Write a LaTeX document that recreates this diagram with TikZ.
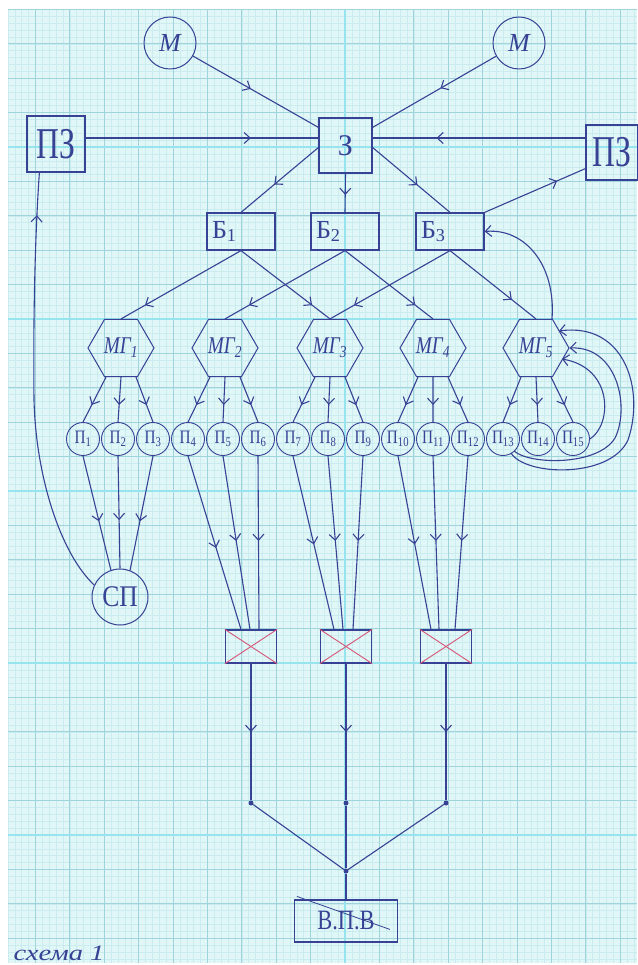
\documentclass[tikz,border=0pt]{standalone}
\usepackage{fontspec}
\usepackage{graphicx}
\setmainfont{Liberation Serif}
\usetikzlibrary{arrows.meta,decorations.markings,shapes.geometric,calc}
\definecolor{paperc}{RGB}{224,246,247}
\definecolor{gfine}{RGB}{202,236,239}
\definecolor{gmed}{RGB}{160,212,220}
\definecolor{gbright}{RGB}{150,228,238}
\definecolor{inkc}{RGB}{55,66,148}
\definecolor{redinkc}{RGB}{214,86,120}
\newcommand\plab[1]{\scalebox{0.8}[1]{П\textsubscript{#1}}}
\newcommand\nrw[2]{\scalebox{#1}[1]{#2}}
\begin{document}
\begin{tikzpicture}[x=1pt,y=-1pt,
  wire/.style={draw=inkc, line width=1.1pt},
  tipd/.style={-{Straight Barb[length=6pt,width=11pt]}},
  marr/.style={postaction={decorate,decoration={markings,mark=at position #1 with {\arrow{Straight Barb[length=6pt,width=11pt]}}}}},
  circ/.style={circle, draw=inkc, line width=1pt, inner sep=0pt, text=inkc},
  rbox/.style={rectangle, draw=inkc, line width=1.2pt, inner sep=0pt, text=inkc},
  hexa/.style={regular polygon, regular polygon sides=6, minimum size=66pt, draw=inkc, line width=1pt, inner sep=0pt, text=inkc, font=\itshape\fontsize{24}{24}\selectfont},
  pc/.style={circle, draw=inkc, minimum size=33pt, inner sep=0pt, line width=0.9pt, text=inkc, font=\fontsize{19}{19}\selectfont},
  xbox/.style={rectangle, draw=inkc, line width=1.2pt, minimum width=51pt, minimum height=33pt, inner sep=0pt},
  bbox/.style={rbox, minimum width=68pt, minimum height=37pt, text width=58pt, align=left, inner xsep=5pt, font=\fontsize{26}{26}\selectfont},
  jdot/.style={circle, fill=inkc, inner sep=0pt, minimum size=5pt}
]
\useasboundingbox (0,0) rectangle (637,965);
\fill[white] (0,0) rectangle (637,965);
\fill[paperc] (8,10) rectangle (637,963);
\begin{scope}
\clip (8,10) rectangle (637,963);
\foreach \i in {-49,...,42} \draw[gfine, line width=0.5pt] ({345+6.88*\i},10) -- ({345+6.88*\i},963);
\foreach \j in {-95,...,43} \draw[gfine, line width=0.5pt] (8,{663+6.88*\j}) -- (637,{663+6.88*\j});
\foreach \i in {-10,...,8} \draw[gmed, line width=0.8pt] ({345+34.4*\i},10) -- ({345+34.4*\i},963);
\foreach \j in {-19,...,8} \draw[gmed, line width=0.8pt] (8,{663+34.4*\j}) -- (637,{663+34.4*\j});
\foreach \j in {-3,...,1} \draw[gbright, line width=1.8pt] (8,{663+172*\j}) -- (637,{663+172*\j});
\draw[gbright, line width=1.8pt] (345,10) -- (345,963);
\end{scope}

% top level
\node[circ, minimum size=52pt, font=\itshape\fontsize{26}{26}\selectfont] (m1) at (170,43) {М};
\node[circ, minimum size=52pt, font=\itshape\fontsize{26}{26}\selectfont] (m2) at (519,43) {М};
\node[rbox, minimum width=58pt, minimum height=56pt, font=\fontsize{44}{44}\selectfont] (pzl) at (56,144) {\nrw{0.72}{ПЗ}};
\node[rbox, minimum width=53pt, minimum height=55pt, font=\fontsize{30}{30}\selectfont] (z) at (345.5,145.5) {З};
\node[rbox, minimum width=52pt, minimum height=55pt, font=\fontsize{44}{44}\selectfont] (pzr) at (612,152.5) {\nrw{0.72}{ПЗ}};
\coordinate (hl) at (0,138);

\node[bbox] (b1) at (241,231.5) {Б\textsubscript{1}};
\node[bbox] (b2) at (345,231.5) {Б\textsubscript{2}};
\node[bbox] (b3) at (450,231.5) {Б\textsubscript{3}};

\node[hexa] (mg1) at (121,348) {\nrw{0.8}{МГ\textsubscript{1}}};
\node[hexa] (mg2) at (225,348) {\nrw{0.8}{МГ\textsubscript{2}}};
\node[hexa] (mg3) at (330,348) {\nrw{0.8}{МГ\textsubscript{3}}};
\node[hexa] (mg4) at (433,348) {\nrw{0.8}{МГ\textsubscript{4}}};
\node[hexa] (mg5) at (536,348) {\nrw{0.8}{МГ\textsubscript{5}}};

\foreach \i in {1,...,15} \node[pc] (p\i) at ({83+35*(\i-1)},439) {\plab{\i}};

\node[circ, minimum size=56pt, font=\fontsize{30}{30}\selectfont] (sp) at (120,597) {\nrw{0.85}{СП}};

\node[xbox] (x1) at (251,646.5) {};
\node[xbox] (x2) at (346,646.5) {};
\node[xbox] (x3) at (446,646.5) {};
\foreach \k in {1,2,3} {
  \draw[redinkc, line width=0.9pt] (x\k.north west) -- (x\k.south east);
  \draw[redinkc, line width=0.9pt] (x\k.south west) -- (x\k.north east);
}

\node[jdot] (d1) at (251,803) {};
\node[jdot] (d2) at (346,803) {};
\node[jdot] (d3) at (446,803) {};
\node[jdot] (j) at (346,871) {};
\node[rbox, minimum width=103pt, minimum height=42pt, font=\fontsize{28}{28}\selectfont] (vpv) at (346,921) {\nrw{0.8}{В.П.В}};
\draw[inkc, line width=0.8pt] ($(vpv.north west)+(3,-3)$) -- ($(vpv.north west)+(96,30)$);

\node[anchor=west, text=inkc, font=\itshape\fontsize{22}{22}\selectfont] (cap) at (10,953) {\nrw{1.3}{схема 1}};

% connectors top
\draw[wire, marr=0.46] (m1) -- ($(z.north west)+(0,10)$);
\draw[wire, marr=0.45] (m2) -- ($(z.north east)+(0,10)$);
\draw[wire, marr=0.71] (pzl.east |- hl) -- (z.west |- hl);
\draw[wire, marr=0.7] (pzr.west |- hl) -- (z.east |- hl);
\draw[wire, marr=0.57] ($(z.west)+(0,2)$) -- (b1.north);
\draw[wire, marr=0.55] (z.south) -- (b2.north);
\draw[wire, marr=0.58] ($(z.east)+(0,2)$) -- (b3.north);
\draw[wire, marr=0.72] (b3.north east) -- ($(pzr.south west)+(0,-12)$);

% Б -> МГ
\draw[wire, marr=0.8] (b1.south) -- (mg1.north);
\draw[wire, marr=0.8] (b1.south) -- (mg3.north);
\draw[wire, marr=0.8] (b2.south) -- (mg2.north);
\draw[wire, marr=0.8] (b2.south) -- (mg4.north);
\draw[wire, marr=0.8] (b3.south) -- (mg3.north);
\draw[wire, marr=0.72] (b3.south) -- (mg5.north);

% МГ -> П
\foreach \g/\a/\b/\c in {1/1/2/3, 2/4/5/6, 3/7/8/9, 4/10/11/12, 5/13/14/15} {
  \draw[wire, marr=0.62] ($(mg\g.south)+(-15,0)$) -- (p\a.north);
  \draw[wire, marr=0.62] (mg\g.south) -- (p\b.north);
  \draw[wire, marr=0.62] ($(mg\g.south)+(15,0)$) -- (p\c.north);
}

% П -> СП
\draw[wire, marr=0.57] (p1.south) -- ($(sp.north)+(-9,2)$);
\draw[wire, marr=0.57] (p2.south) -- (sp.north);
\draw[wire, marr=0.57] (p3.south) -- ($(sp.north)+(10,2)$);

% П -> X boxes
\draw[wire, marr=0.53] (p4.south) -- ($(x1.north)+(-10,0)$);
\draw[wire, marr=0.49] (p5.south) -- ($(x1.north)+(-1,0)$);
\draw[wire, marr=0.49] (p6.south) -- ($(x1.north)+(8,0)$);
\draw[wire, marr=0.51] (p7.south) -- ($(x2.north)+(-12,0)$);
\draw[wire, marr=0.49] (p8.south) -- ($(x2.north)+(-3,0)$);
\draw[wire, marr=0.49] (p9.south) -- ($(x2.north)+(7,0)$);
\draw[wire, marr=0.51] (p10.south) -- ($(x3.north)+(-15,0)$);
\draw[wire, marr=0.49] (p11.south) -- ($(x3.north)+(-7,0)$);
\draw[wire, marr=0.49] (p12.south) -- ($(x3.north)+(9,0)$);

% СП -> left ПЗ
\draw[wire, marr=0.9] (sp.155) .. controls (62,555) and (36,480) .. (34,400) .. controls (33,300) and (36,220) .. ($(pzl.south west)+(13,0)$);

% feedback arcs around МГ5
\draw[wire, tipd] ($(mg5)+(16,-29)$) .. controls (556,265) and (525,228) .. (b3.east);
\draw[wire, tipd] (p15.east) .. controls (612,425) and (614,368) .. ($(mg5)+(26,11)$);
\draw[wire, tipd] ($(p13)+(11,12)$) .. controls (530,465) and (598,466) .. (615,438) .. controls (630,408) and (618,346) .. (mg5.east);
\draw[wire, tipd] ($(p13)+(8,14)$) .. controls (525,476) and (610,479) .. (628,440) .. controls (645,390) and (625,322) .. ($(mg5)+(23,-17)$);

% bottom
\draw[wire, marr=0.5] (x1.south) -- (d1);
\draw[wire, marr=0.5] (x2.south) -- (d2);
\draw[wire, marr=0.5] (x3.south) -- (d3);
\draw[wire] (d1) -- (j);
\draw[wire] (d3) -- (j);
\draw[wire] (d2) -- (j);
\draw[wire] (j) -- (vpv.north);
\end{tikzpicture}
\end{document}
